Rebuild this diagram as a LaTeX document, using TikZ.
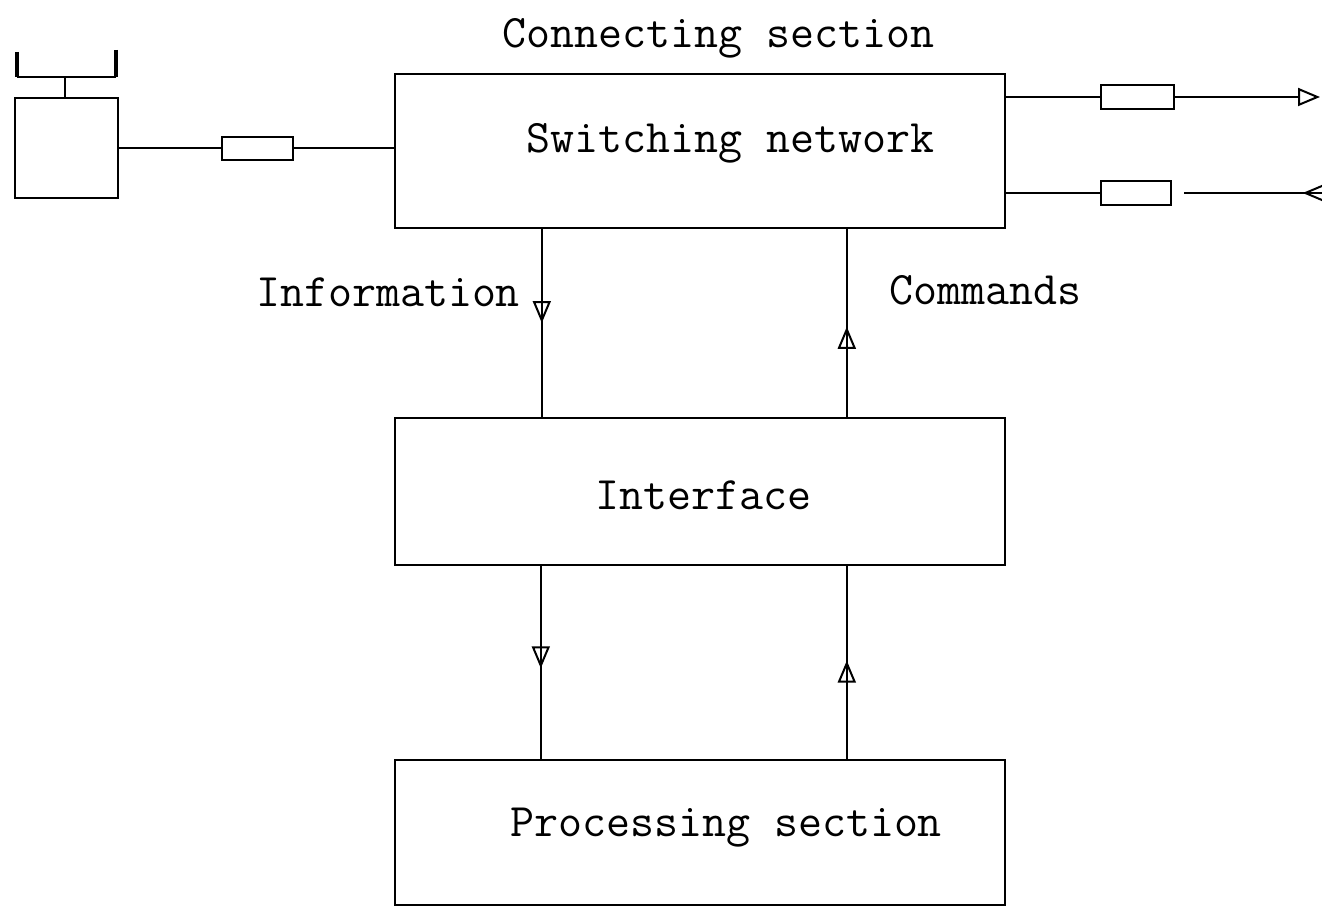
\documentclass[tikz,border=0pt]{standalone}
\usepackage{fontspec}
\usetikzlibrary{arrows.meta,decorations.markings}
\begin{document}
\begin{tikzpicture}[x=0.5pt,y=-0.5pt,
  bigbox/.style={draw, line width=1.2pt, minimum width=305pt, inner sep=0pt},
  resbox/.style={draw, line width=1pt, minimum width=35.5pt, minimum height=11.5pt, inner sep=0pt},
  lbl/.style={inner sep=0pt, font=\ttfamily\fontsize{23.3pt}{26pt}\selectfont},
  wire/.style={line width=1pt},
  midarrow/.style={postaction={decorate}, decoration={markings, mark=at position #1 with {\arrow[line width=1pt]{Triangle[open,length=11pt,width=9pt]}}}},
  midarrowrev/.style={postaction={decorate}, decoration={markings, mark=at position #1 with {\arrowreversed[line width=1pt]{Triangle[open,length=11pt,width=9pt]}}}}
]
\useasboundingbox (0,0) rectangle (1322,909);

% boxes
\node[bigbox, minimum height=77pt] (sw) at (700,151) {};
\node[bigbox, minimum height=73.5pt] (if) at (700,491.5) {};
\node[bigbox, minimum height=72.5pt] (ps) at (700,832.5) {};

% texts
\node[lbl] (tcs) at (718,38) {Connecting section};
\node[lbl] (tsw) at (730,143) {Switching network};
\node[lbl] (tif) at (703,495) {Interface};
\node[lbl] (tps) at (726,828) {Processing section};
\node[lbl] (tinfo) at (388,292) {Information};
\node[lbl] (tcmd) at (985,290) {Commands};

% telephone
\node[draw, line width=1.2pt, minimum width=51.5pt, minimum height=50pt, inner sep=0pt] (tel) at (66.5,148) {};
\coordinate (hsL) at (17,77);
\coordinate (hsR) at (116,77);
\draw[wire, line width=1.2pt] (hsL) -- (hsR);
\draw[line width=2pt] (17,52) -- (hsL);
\draw[line width=2pt] (116,50) -- (hsR);
\draw[wire] (65,77) -- (tel.north -| 65,0);

% resistors
\node[resbox] (r1) at (257.5,148.5) {};
\node[resbox, minimum width=36.5pt, minimum height=12pt] (r2) at (1137,97) {};
\node[resbox, minimum width=35pt, minimum height=12pt] (r3) at (1136,193) {};
\coordinate (outR) at (1320,97);
\coordinate (inR) at (1322,193);

% wires
\draw[wire] (tel.east |- r1.west) -- (r1.west);
\draw[wire] (r1.east) -- (sw.west |- r1.east);
\draw[wire] (sw.east |- r2.west) -- (r2.west);
\draw[wire, -{Triangle[open,length=11pt,width=9pt]}] (r2.east) -- (outR);
\draw[wire] (sw.east |- r3.west) -- (r3.west);
\draw[wire, midarrowrev=0.86] ([xshift=6pt]r3.east) -- (inR);

% vertical connectors
\draw[wire, midarrow=0.5] ([xshift=74pt]sw.south west) -- ([xshift=74pt]if.north west);
\draw[wire, midarrow=0.48] ([xshift=226.5pt]if.north west) -- ([xshift=226.5pt]sw.south west);
\draw[wire, midarrow=0.53] ([xshift=73.5pt]if.south west) -- ([xshift=73.5pt]ps.north west);
\draw[wire, midarrow=0.51] ([xshift=226.5pt]ps.north west) -- ([xshift=226.5pt]if.south west);
\end{tikzpicture}
\end{document}
